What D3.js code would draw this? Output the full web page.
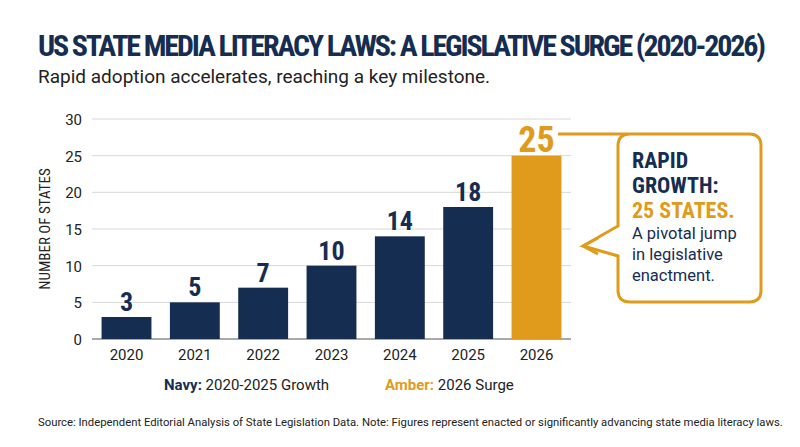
<!DOCTYPE html>
<html><head><meta charset="utf-8">
<script src="https://cdn.jsdelivr.net/npm/d3@7"></script>
<style>body{margin:0;background:#fff}</style></head>
<body><svg id="c" width="800" height="447"></svg>
<script>
const years=["2020","2021","2022","2023","2024","2025","2026"];
const values=[3,5,7,10,14,18,25];
const yTicks=[0,5,10,15,20,25,30];
const navy="#162d52", amber="#e09b1c";
const cond="'Liberation Sans Narrow','Roboto Condensed','DejaVu Sans Condensed',sans-serif";
const svg=d3.select("#c");
svg.append("text").attr("x",38).attr("y",56).attr("font-family",cond).attr("font-weight","bold")
 .attr("font-size",30).attr("fill",navy).attr("textLength",728).text("US STATE MEDIA LITERACY LAWS: A LEGISLATIVE SURGE (2020-2026)");
svg.append("text").attr("x",38).attr("y",83).attr("font-family","Roboto,sans-serif").attr("font-size",19)
 .attr("fill","#222").text("Rapid adoption accelerates, reaching a key milestone.");
const x=d3.scaleBand().domain(years).range([92,571]).paddingInner(0.27).paddingOuter(0.14);
const y=d3.scaleLinear().domain([0,30]).range([339,119]);
const g=svg.append("g");
g.selectAll(".gl").data(yTicks).join("line").attr("x1",92).attr("x2",571)
 .attr("y1",d=>y(d)).attr("y2",d=>y(d)).attr("stroke",d=>d===0?"#555":"#d8d8d8").attr("stroke-width",1);
g.selectAll(".yt").data(yTicks).join("text").attr("x",82).attr("y",d=>y(d)+6).attr("text-anchor","end")
 .attr("font-family","Roboto,sans-serif").attr("font-size",15).attr("fill","#222").text(d=>d);
g.selectAll(".xt").data(years).join("text").attr("x",d=>x(d)+x.bandwidth()/2).attr("y",360).attr("text-anchor","middle")
 .attr("font-family","Roboto,sans-serif").attr("font-size",15).attr("fill","#222").text(d=>d);
svg.append("text").attr("transform","translate(50,229) rotate(-90)").attr("text-anchor","middle")
 .attr("font-family",cond).attr("font-size",15).attr("fill","#222").text("NUMBER OF STATES");
g.selectAll(".b").data(values).join("rect").attr("x",(d,i)=>x(years[i])).attr("width",x.bandwidth())
 .attr("y",d=>y(d)).attr("height",d=>339-y(d)).attr("fill",(d,i)=>i===6?amber:navy);
g.selectAll(".v").data(values).join("text").attr("x",(d,i)=>x(years[i])+x.bandwidth()/2)
 .attr("y",(d,i)=>y(d)-(i===6?4:6)).attr("text-anchor","middle").attr("font-family",cond).attr("font-weight","bold")
 .attr("font-size",(d,i)=>i===6?36:26).attr("fill",(d,i)=>i===6?amber:navy).text(d=>d);
// callout
const bx=618,by=134,bw=143,bh=168;
svg.append("path").attr("d",`M558,${by}H${bx+10}`).attr("stroke",amber).attr("stroke-width",3).attr("fill","none");
svg.append("path").attr("d",`M${bx+12},${by} H${bx+bw-12} Q${bx+bw},${by} ${bx+bw},${by+12} V${by+bh-12} Q${bx+bw},${by+bh} ${bx+bw-12},${by+bh} H${bx+12} Q${bx},${by+bh} ${bx},${by+bh-12} V${by+122} L583,246 L${bx},${by+92} V${by+12} Q${bx},${by} ${bx+12},${by} Z`)
 .attr("stroke",amber).attr("stroke-width",3).attr("fill","#fff").attr("stroke-linejoin","miter");
svg.append("path").attr("d","M583,246 L598,238 M583,246 L598,254").attr("stroke",amber).attr("stroke-width",3);
const lines=[["RAPID",navy,true],["GROWTH:",navy,true],["25 STATES.",amber,true],["A pivotal jump",navy,false],["in legislative",navy,false],["enactment.",navy,false]];
svg.selectAll(".cl").data(lines).join("text").attr("x",632).attr("y",(d,i)=>i<3?168+i*25:239+(i-3)*21)
 .attr("font-family",d=>d[2]?cond:"Roboto,sans-serif").attr("font-weight",d=>d[2]?"bold":"normal")
 .attr("font-size",d=>d[2]?22:16.5).attr("fill",d=>d[1]).text(d=>d[0]);
// legend
const lg=svg.append("text").attr("y",390).attr("font-family","Roboto,sans-serif").attr("font-size",15);
lg.append("tspan").attr("x",164).attr("font-weight","bold").attr("fill",navy).text("Navy: ");
lg.append("tspan").attr("fill","#222").text("2020-2025 Growth");
const lg2=svg.append("text").attr("y",390).attr("x",385).attr("font-family","Roboto,sans-serif").attr("font-size",15);
lg2.append("tspan").attr("font-weight","bold").attr("fill",amber).text("Amber: ");
lg2.append("tspan").attr("fill","#222").text("2026 Surge");
svg.append("text").attr("x",38).attr("y",426).attr("font-family","Roboto,sans-serif").attr("font-size",11.3).attr("fill","#222")
 .text("Source: Independent Editorial Analysis of State Legislation Data. Note: Figures represent enacted or significantly advancing state media literacy laws.");
</script></body></html>
